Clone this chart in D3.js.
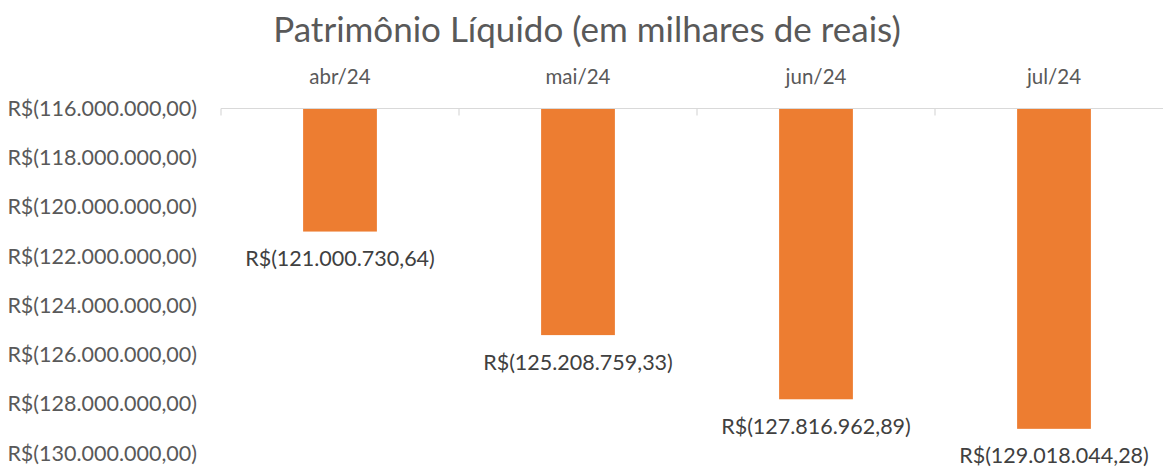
<!DOCTYPE html>
<head>
  <meta charset="utf-8">
  <script src="https://cdn.jsdelivr.net/npm/d3@7"></script>
  <style>
    body { margin: 0; background: #fff; }
    svg { font-family: Lato, "Noto Sans", sans-serif; }
    .title { font-size: 35px; fill: #595959; }
    .cat { font-size: 20.5px; fill: #595959; }
    .ytick { font-size: 21.5px; fill: #595959; }
    .lbl { font-size: 21.5px; fill: #404040; }
  </style>
</head>
<body>
<div id="chart"></div>
<script>

var months = ["abr/24", "mai/24", "jun/24", "jul/24"];
var patrimonio = [-121000730.64, -125208759.33, -127816962.89, -129018044.28];
var yTicks = [-116000000, -118000000, -120000000, -122000000, -124000000, -126000000, -128000000, -130000000];

var width = 1163, height = 467;

var br = d3.formatLocale({decimal: ",", thousands: ".", grouping: [3], currency: ["R$", ""]});
var fmt = br.format(",.2f");
function money(v) { return "R$(" + fmt(Math.abs(v)) + ")"; }

var svg = d3.select("#chart").append("svg")
    .attr("width", width)
    .attr("height", height);

var x = d3.scaleBand()
    .domain(months)
    .range([221, 1173])
    .paddingInner(0.69)
    .paddingOuter(0.345);

var y = d3.scaleLinear()
    .domain([-116000000, -130000000])
    .range([108.5, 453]);

svg.append("text")
    .attr("class", "title")
    .attr("x", 587)
    .attr("y", 42)
    .attr("text-anchor", "middle")
    .text("Patrimônio Líquido (em milhares de reais)");

// y axis labels
svg.selectAll(".ytick")
    .data(yTicks)
  .enter().append("text")
    .attr("class", "ytick")
    .attr("x", 197)
    .attr("y", function(d) { return y(d); })
    .attr("dy", "0.35em")
    .attr("text-anchor", "end")
    .text(money);

// bars
svg.selectAll(".bar")
    .data(patrimonio)
  .enter().append("rect")
    .attr("class", "bar")
    .attr("x", function(d, i) { return x(months[i]); })
    .attr("width", x.bandwidth())
    .attr("y", y(-116000000))
    .attr("height", function(d) { return y(d) - y(-116000000); })
    .style("fill", "#ed7d31");

// category axis on top
var band = d3.scaleLinear().domain([0, months.length]).range(x.range());
svg.append("line")
    .attr("x1", 221).attr("x2", width)
    .attr("y1", y(-116000000)).attr("y2", y(-116000000))
    .style("stroke", "#d9d9d9").style("stroke-width", 1.2);
svg.selectAll(".tk")
    .data(d3.range(months.length + 1))
  .enter().append("line")
    .attr("x1", function(d) { return band(d); })
    .attr("x2", function(d) { return band(d); })
    .attr("y1", y(-116000000))
    .attr("y2", y(-116000000) + 7)
    .style("stroke", "#d9d9d9").style("stroke-width", 1.2);

svg.selectAll(".cat")
    .data(months)
  .enter().append("text")
    .attr("class", "cat")
    .attr("x", function(d) { return x(d) + x.bandwidth() / 2; })
    .attr("y", 77)
    .attr("dy", "0.35em")
    .attr("text-anchor", "middle")
    .text(function(d) { return d; });

// data labels
svg.selectAll(".lbl")
    .data(patrimonio)
  .enter().append("text")
    .attr("class", "lbl")
    .attr("x", function(d, i) { return x(months[i]) + x.bandwidth() / 2; })
    .attr("y", function(d) { return y(d) + 27; })
    .attr("dy", "0.35em")
    .attr("text-anchor", "middle")
    .text(money);

</script>
</body>
